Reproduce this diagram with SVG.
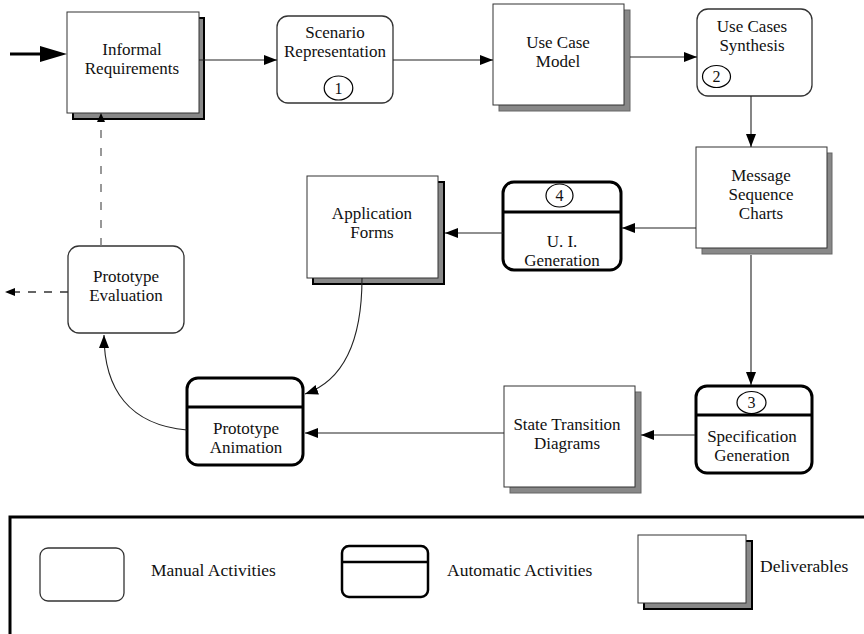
<svg xmlns="http://www.w3.org/2000/svg" width="864" height="634" viewBox="0 0 864 634">
<style>
text{font-family:"Liberation Serif","Times New Roman",serif;font-size:17px;fill:#111;text-anchor:middle}
.num{font-size:16px}
.lg{text-anchor:start;font-size:17.5px}
.front{fill:#fff;stroke:#333;stroke-width:1}
.shadow{fill:#888;stroke:#000;stroke-width:2}
.shadow2{fill:#888;stroke:#666;stroke-width:1}
.manual{fill:#fff;stroke:#333;stroke-width:1.3}
.auto{fill:#fff;stroke:#000;stroke-width:3}
.div{stroke:#000;stroke-width:3}
.circ{fill:#fff;stroke:#000;stroke-width:1.2}
.conn{fill:none;stroke:#222;stroke-width:1.1}
.dash{fill:none;stroke:#777;stroke-width:1.5;stroke-dasharray:8,10}
.dash2{fill:none;stroke:#333;stroke-width:1.5;stroke-dasharray:8,8}
</style>
<defs>
<marker id="ah" markerUnits="userSpaceOnUse" markerWidth="13" markerHeight="10" refX="13" refY="5" orient="auto">
<path d="M0,0 L13,5 L0,10 z" fill="#000"/>
</marker>
</defs>

<g id="informal">
<rect class="shadow" x="73" y="18" width="131" height="101"/>
<rect class="front" x="67" y="12" width="132" height="101"/>
<text x="132" y="55">Informal</text>
<text x="132" y="74">Requirements</text>
</g>

<g id="scenario">
<rect class="manual" x="277" y="16" width="116" height="87" rx="11"/>
<text x="335" y="38">Scenario</text>
<text x="335" y="57">Representation</text>
<ellipse class="circ" cx="338.5" cy="88" rx="14.3" ry="12"/>
<text class="num" x="338.5" y="93.5">1</text>
</g>

<g id="usecasemodel">
<rect class="shadow2" x="499" y="10" width="131" height="101"/>
<rect class="front" x="493" y="4" width="131" height="101"/>
<text x="558" y="48">Use Case</text>
<text x="558" y="67">Model</text>
</g>

<g id="synthesis">
<rect class="manual" x="697" y="9" width="115" height="87" rx="11"/>
<text x="752" y="32">Use Cases</text>
<text x="752" y="51">Synthesis</text>
<ellipse class="circ" cx="716.5" cy="76.5" rx="14" ry="11"/>
<text class="num" x="716.5" y="82">2</text>
</g>

<g id="msc">
<rect class="shadow2" x="702" y="153" width="130" height="101"/>
<rect class="front" x="696" y="147" width="131" height="101"/>
<text x="761" y="181">Message</text>
<text x="761" y="200">Sequence</text>
<text x="761" y="219">Charts</text>
</g>

<g id="uigen">
<rect class="auto" x="503" y="182" width="118" height="88" rx="11"/>
<line class="div" x1="503" y1="212" x2="621" y2="212"/>
<ellipse class="circ" cx="559.5" cy="195.5" rx="13.5" ry="11.5"/>
<text class="num" x="559.5" y="201">4</text>
<text x="562" y="247">U. I.</text>
<text x="562" y="266">Generation</text>
</g>

<g id="appforms">
<rect class="shadow" x="313" y="182" width="131" height="102"/>
<rect class="front" x="307" y="176" width="131" height="102"/>
<text x="372" y="219">Application</text>
<text x="372" y="238">Forms</text>
</g>

<g id="evaluation">
<rect class="manual" x="68" y="246" width="116" height="87" rx="11"/>
<text x="126" y="282">Prototype</text>
<text x="126" y="301">Evaluation</text>
</g>

<g id="animation">
<rect class="auto" x="187" y="378" width="116" height="87" rx="11"/>
<line class="div" x1="187" y1="407" x2="303" y2="407"/>
<text x="246" y="434">Prototype</text>
<text x="246" y="453">Animation</text>
</g>

<g id="statetrans">
<rect class="shadow2" x="510" y="392" width="131" height="101"/>
<rect class="front" x="504" y="386" width="131" height="101"/>
<text x="567" y="430">State Transition</text>
<text x="567" y="449">Diagrams</text>
</g>

<g id="specgen">
<rect class="auto" x="696" y="386" width="116" height="87" rx="11"/>
<line class="div" x1="696" y1="415" x2="812" y2="415"/>
<ellipse class="circ" cx="751.5" cy="402.5" rx="14.5" ry="11"/>
<text class="num" x="751.5" y="408">3</text>
<text x="752" y="442">Specification</text>
<text x="752" y="461">Generation</text>
</g>

<g id="connectors">
<line x1="10" y1="54" x2="44" y2="54" stroke="#000" stroke-width="3"/>
<path d="M40,46 L67,54 L40,62 z" fill="#000"/>
<line class="conn" x1="199" y1="60" x2="277" y2="60" marker-end="url(#ah)"/>
<line class="conn" x1="393" y1="60" x2="493" y2="60" marker-end="url(#ah)"/>
<line class="conn" x1="630" y1="57" x2="697" y2="57" marker-end="url(#ah)"/>
<line class="conn" x1="751" y1="96" x2="751" y2="147" marker-end="url(#ah)"/>
<line class="conn" x1="696" y1="228" x2="622" y2="228" marker-end="url(#ah)"/>
<line class="conn" x1="503" y1="233" x2="445" y2="233" marker-end="url(#ah)"/>
<path class="conn" d="M362,278 C362,340 345,380 305,394" marker-end="url(#ah)"/>
<line class="conn" x1="751" y1="255" x2="751" y2="385" marker-end="url(#ah)"/>
<line class="conn" x1="695" y1="435" x2="641" y2="435" marker-end="url(#ah)"/>
<line class="conn" x1="504" y1="433" x2="305" y2="433" marker-end="url(#ah)"/>
<path class="conn" d="M187,430 C130,425 104,390 104,335" marker-end="url(#ah)"/>
<line class="dash" x1="101" y1="246" x2="101" y2="122"/>
<path d="M97,122 L101,113 L105,122 z" fill="#000"/>
<line class="dash2" x1="68" y1="292" x2="14" y2="292"/>
<path d="M15,288 L5,292 L15,296 z" fill="#000"/>
</g>

<g id="legend">
<rect x="10" y="517" width="880" height="160" fill="none" stroke="#000" stroke-width="3"/>
<rect class="manual" x="40" y="548" width="84" height="53" rx="8"/>
<text class="lg" x="151" y="576">Manual Activities</text>
<rect x="342" y="546" width="86" height="51" rx="7" fill="#fff" stroke="#000" stroke-width="2.5"/>
<line x1="342" y1="562" x2="428" y2="562" stroke="#000" stroke-width="2.5"/>
<text class="lg" x="447" y="576">Automatic Activities</text>
<rect class="shadow" x="644" y="541" width="108" height="68"/>
<rect class="front" x="638" y="535" width="108" height="68"/>
<text class="lg" x="760" y="572">Deliverables</text>
</g>
</svg>
